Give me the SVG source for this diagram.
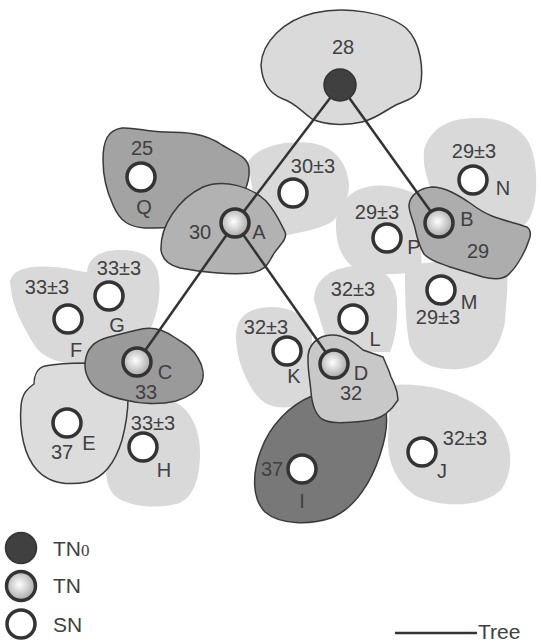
<svg xmlns="http://www.w3.org/2000/svg" width="541" height="642" viewBox="0 0 541 642">
  <defs>
    <radialGradient id="tnFill" cx="45%" cy="45%" r="55%">
      <stop offset="0" stop-color="#ffffff"/>
      <stop offset="1" stop-color="#a8a8a8"/>
    </radialGradient>
    <style>
      .zone { fill: #d9d9d9; stroke: none; }
      .cell { stroke: #3a3a3a; stroke-width: 1.5; stroke-linejoin: round; }
      .sn { fill: #ffffff; stroke: #333333; stroke-width: 3.5; }
      .tn { fill: url(#tnFill); stroke: #333333; stroke-width: 3.5; }
      .tn0 { fill: #404040; stroke: #333333; stroke-width: 1.5; }
      .edge { stroke: #333333; stroke-width: 2.5; fill: none; }
      text { font-family: "Liberation Sans", Arial, sans-serif; font-size: 20px; fill: #404040; text-anchor: middle; }
      .legend { font-size: 21px; text-anchor: start; }
    </style>
  </defs>

  <!-- sensing ranges of the plain sensor nodes (no outline) -->
  <g id="zones">
    <path class="zone" d="M10,282 C12,268 32,265 55,267 C70,268 80,272 87,272 C88,258 100,250 120,250 C140,250 153,256 158,272 C162,292 158,312 150,330 L85,362 C65,366 45,360 35,346 C25,330 15,312 12,296 Z"/>
    <path class="zone" d="M120,400 L175,402 C191,410 200,430 200,452 C200,476 195,495 180,503 C160,509 130,508 115,496 C105,486 105,470 108,460 Z"/>
    <path class="zone" d="M248,162 C258,146 285,140 312,143 C336,147 348,165 349,185 C349,200 341,210 335,219 C325,229 300,232 284,236 L255,205 Z"/>
    <path class="zone" d="M336,226 C335,205 350,189 372,186 C390,184 405,189 418,195 L422,270 C400,276 370,276 355,268 C341,260 336,242 336,226 Z"/>
    <path class="zone" d="M424,150 C428,135 440,122 462,119 C485,116 510,118 526,138 C536,152 538,180 535,200 C533,212 530,222 520,228 L440,205 C430,190 422,170 424,150 Z"/>
    <path class="zone" d="M405,265 L505,255 C510,280 506,300 505,322 C500,346 490,366 460,369 C430,371 413,360 409,342 C405,320 405,290 405,265 Z"/>
    <path class="zone" d="M314,300 C314,280 330,268 355,266 C380,264 395,276 397,300 C398,322 395,340 390,352 L330,352 Z"/>
    <path class="zone" d="M236,336 C236,316 250,307 272,307 C290,307 305,315 312,330 L312,396 C302,408 280,411 265,403 C250,393 236,362 236,336 Z"/>
    <path class="zone" d="M395,385 C432,382 472,396 496,421 C513,441 515,470 501,490 C481,508 441,508 416,496 C396,483 388,462 388,442 C388,420 390,400 395,385 Z"/>
  </g>

  <!-- outlined cells of the tree nodes and fixed-value sensors -->
  <g id="cell-root">
    <path class="cell" fill="#dadada" d="M261,65 C262,42 284,20 314,13 C345,6 386,12 406,28 C421,42 424,70 420,88 C417,97 408,100 398,104 C385,110 378,118 362,122 C345,126 325,125 312,119 C300,110 295,103 283,99 C270,94 262,82 261,65 Z"/>
  </g>
  <g id="cell-Q">
    <path class="cell" fill="#a3a3a3" d="M103,160 C103,140 108,130 122,128 C135,127 145,132 165,132 C185,132 205,133 222,145 C235,153 247,156 249,168 C250,178 247,186 244,192 L200,225 C185,228 165,228 145,228 C130,227 120,222 113,205 C106,190 103,175 103,160 Z"/>
  </g>
  <g id="cell-A">
    <path class="cell" fill="#b2b2b2" d="M161,250 C160,226 178,199 203,187 C224,179 250,186 266,201 C276,212 280,222 285,232 C288,240 278,246 273,255 C268,263 266,271 250,273 C230,275 200,272 180,268 C168,265 162,258 161,250 Z"/>
  </g>
  <g id="cell-B">
    <path class="cell" fill="#adadad" d="M409,205 C410,195 420,188 432,187 C445,187 458,195 470,203 C478,209 484,213 492,216 C502,220 515,223 527,227 C531,230 531,235 529,240 C526,250 518,265 510,273 C505,279 495,280 483,277 C470,273 460,270 450,267 C440,263 430,261 424,254 C419,246 417,238 415,228 C413,220 409,213 409,205 Z"/>
  </g>
  <g id="cell-E">
    <path class="cell" fill="#dcdcdc" d="M86,363 C70,363 55,364 45,366 C37,368 34,376 34,384 C28,388 22,393 21,406 C19,430 24,456 37,470 C48,482 66,486 87,482 C106,477 116,460 122,440 C126,425 128,412 128,398 Z"/>
  </g>
  <g id="cell-C">
    <path class="cell" fill="#9a9a9a" d="M85,366 C85,352 92,343 103,339 C112,336 125,333 137,330 C150,326 163,329 174,337 C183,343 192,347 198,358 C203,366 205,376 201,384 C196,393 186,398 176,401 C160,405 140,404 125,400 C110,397 97,391 91,383 C87,377 85,371 85,366 Z"/>
  </g>
  <g id="cell-I">
    <path class="cell" fill="#787878" d="M312,396 C290,405 270,425 261,450 C251,476 253,500 265,512 C280,525 310,525 331,518 C356,508 372,480 380,455 C385,440 388,425 386,412 L340,420 C326,418 316,410 312,396 Z"/>
  </g>
  <g id="cell-D">
    <path class="cell" fill="#c8c8c8" d="M308,360 C307,345 318,335 332,335 C346,335 355,343 363,350 L383,357 L386,364 L389,371 L391,377 L393,381 L395,386 L397,392 L398,400 L392,408 C386,415 378,420 365,421 C345,423 330,424 322,419 C315,414 312,404 311,392 C310,380 308,372 308,360 Z"/>
  </g>

  <!-- aggregation tree -->
  <g id="connectors">
    <line class="edge" x1="340" y1="85" x2="235" y2="223"/>
    <line class="edge" x1="340" y1="85" x2="439" y2="223"/>
    <line class="edge" x1="235" y1="223" x2="137" y2="362"/>
    <line class="edge" x1="235" y1="223" x2="334" y2="364"/>
  </g>

  <!-- nodes -->
  <g id="node-root">
    <circle class="tn0" cx="340" cy="85" r="16"/>
    <text x="343" y="54">28</text>
  </g>
  <g id="node-A">
    <circle class="tn" cx="235" cy="223" r="14"/>
    <text x="200" y="239">30</text>
    <text x="259" y="239">A</text>
  </g>
  <g id="node-B">
    <circle class="tn" cx="439" cy="223" r="14"/>
    <text x="467" y="226">B</text>
    <text x="478" y="258">29</text>
  </g>
  <g id="node-C">
    <circle class="tn" cx="137" cy="362" r="14"/>
    <text x="165" y="379">C</text>
    <text x="146" y="399">33</text>
  </g>
  <g id="node-D">
    <circle class="tn" cx="334" cy="364" r="14"/>
    <text x="361" y="380">D</text>
    <text x="351" y="400">32</text>
  </g>
  <g id="node-Q">
    <circle class="sn" cx="141" cy="177" r="14"/>
    <text x="142" y="155">25</text>
    <text x="144" y="214">Q</text>
  </g>
  <g id="node-30">
    <circle class="sn" cx="293" cy="193" r="14"/>
    <text x="313" y="173">30±3</text>
  </g>
  <g id="node-N">
    <circle class="sn" cx="473" cy="180" r="14"/>
    <text x="474" y="158">29±3</text>
    <text x="503" y="195">N</text>
  </g>
  <g id="node-P">
    <circle class="sn" cx="387" cy="238" r="14"/>
    <text x="377" y="219">29±3</text>
    <text x="414" y="254">P</text>
  </g>
  <g id="node-M">
    <circle class="sn" cx="441" cy="290" r="14"/>
    <text x="469" y="309">M</text>
    <text x="438" y="324">29±3</text>
  </g>
  <g id="node-L">
    <circle class="sn" cx="353" cy="319" r="14"/>
    <text x="353" y="296">32±3</text>
    <text x="375" y="346">L</text>
  </g>
  <g id="node-K">
    <circle class="sn" cx="287" cy="351" r="14"/>
    <text x="266" y="334">32±3</text>
    <text x="294" y="383">K</text>
  </g>
  <g id="node-I">
    <circle class="sn" cx="302" cy="469" r="14"/>
    <text x="272" y="476">37</text>
    <text x="302" y="508">I</text>
  </g>
  <g id="node-J">
    <circle class="sn" cx="422" cy="452" r="14"/>
    <text x="465" y="445">32±3</text>
    <text x="442" y="478">J</text>
  </g>
  <g id="node-F">
    <circle class="sn" cx="68" cy="319" r="14"/>
    <text x="47" y="294">33±3</text>
    <text x="76" y="357">F</text>
  </g>
  <g id="node-G">
    <circle class="sn" cx="109" cy="296" r="14"/>
    <text x="119" y="275">33±3</text>
    <text x="117" y="332">G</text>
  </g>
  <g id="node-E">
    <circle class="sn" cx="67" cy="423" r="14"/>
    <text x="62" y="459">37</text>
    <text x="89" y="450">E</text>
  </g>
  <g id="node-H">
    <circle class="sn" cx="143" cy="447" r="14"/>
    <text x="153" y="430">33±3</text>
    <text x="164" y="477">H</text>
  </g>

  <!-- legend -->
  <g id="legend">
    <circle class="tn0" cx="21" cy="548" r="15.5"/>
    <circle class="tn" cx="21" cy="586" r="14.5"/>
    <circle class="sn" cx="21" cy="624" r="14"/>
    <text class="legend" x="53" y="556">TN<tspan font-family="Liberation Serif, serif" font-size="17">0</tspan></text>
    <text class="legend" x="53" y="593">TN</text>
    <text class="legend" x="53" y="632">SN</text>
    <line class="edge" x1="395" y1="633" x2="477" y2="633"/>
    <text class="legend" x="478" y="639">Tree</text>
  </g>
</svg>
